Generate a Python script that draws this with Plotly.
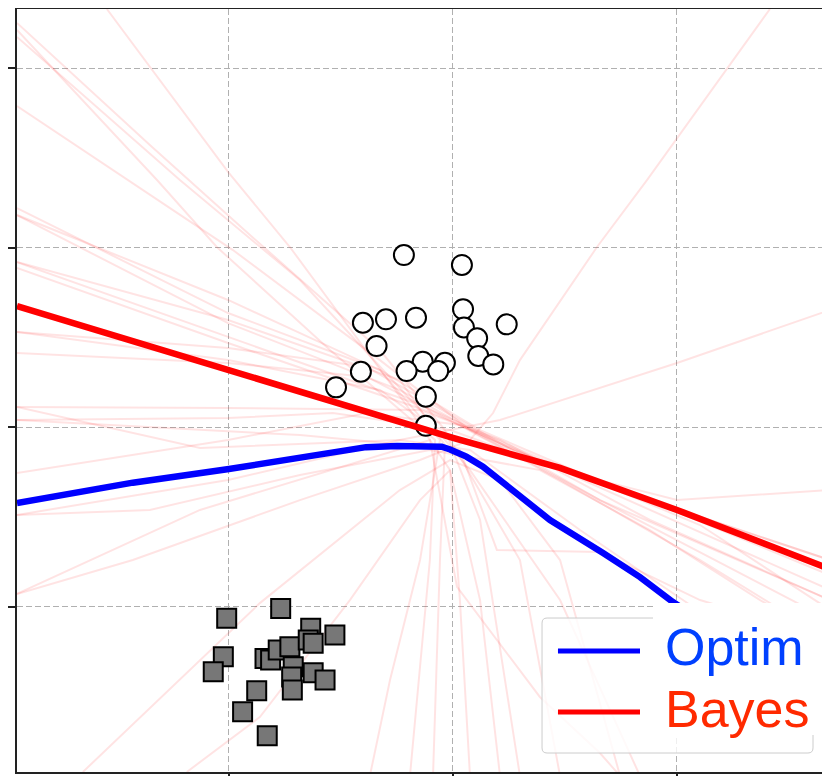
import plotly.graph_objects as go

# ---------------- data ----------------
circle_x = [-0.219, 0.040, -0.402, -0.299, -0.165, 0.045, 0.049, 0.240, -0.341, 0.108,
            0.113, 0.180, -0.135, -0.036, -0.207, -0.066, -0.411, -0.522, -0.121, -0.121]
circle_y = [0.958, 0.903, 0.581, 0.600, 0.609, 0.656, 0.555, 0.572, 0.451, 0.494,
            0.396, 0.349, 0.364, 0.358, 0.312, 0.312, 0.308, 0.221, 0.169, 0.007]

square_x = [-1.010, -0.769, -0.635, -0.527, -1.025, -1.070, -0.839, -0.814, -0.780, -0.728,
            -0.646, -0.624, -0.713, -0.624, -0.571, -0.720, -0.717, -0.876, -0.939, -0.829]
square_y = [-1.066, -1.011, -1.121, -1.159, -1.280, -1.363, -1.289, -1.298, -1.242, -1.224,
            -1.187, -1.205, -1.335, -1.369, -1.409, -1.393, -1.465, -1.469, -1.586, -1.720]

bayes_x = [-1.946, -1.004, -0.504, 0.0, 0.478, 1.0, 1.683]
bayes_y = [0.674, 0.318, 0.128, -0.061, -0.228, -0.462, -0.791]

optim_x = [-1.946, -1.429, -1.0, -0.683, -0.388, -0.250, -0.121, -0.050, -0.013, 0.060,
           0.134, 0.286, 0.433, 0.670, 0.835, 0.982, 1.103, 1.371, 1.683]
optim_y = [-0.423, -0.310, -0.234, -0.170, -0.112, -0.106, -0.106, -0.110, -0.125, -0.165,
           -0.221, -0.368, -0.518, -0.702, -0.836, -0.975, -1.075, -1.298, -1.560]

# posterior sample boundaries (faint)
sample_x = [
    [-1.545, -1.004, -0.728, -0.192, -0.013, 0.121, 0.210],
    [-1.946, -1.321, -1.054, -0.549, -0.080, -0.103, -0.192],
    [-1.946, -1.219, -0.683, -0.147, 0.076, 0.478, 0.835],
    [-1.946, -0.982, -0.326, 0.076, 0.656, 1.683],
    [-1.946, -1.004, -0.326, 0.121, 0.746, 1.683],
    [-1.946, -1.004, -0.237, 0.210, 0.924, 1.683],
    [-1.946, -1.004, -0.147, 0.299, 1.103, 1.683],
    [-1.946, -1.004, -0.103, 0.478, 1.683],
    [-1.946, -1.004, -0.384, 0.031, 0.656, 1.683],
    [-1.946, -1.004, -0.384, -0.013, 0.478, 1.103, 1.683],
    [-1.946, -1.004, -0.147, 0.210, 0.879, 1.683],
    [-1.946, -1.004, -0.536, -0.013, 0.478, 1.683],
    [-1.946, -1.004, -0.384, 0.031, 0.478, 1.0, 1.683],
    [-1.946, -1.004, -0.237, 0.210, 1.0, 1.683],
    [-1.946, -1.429, -0.683, -0.147, 0.076, 0.179, 0.299, 0.643, 0.866, 1.415],
    [-1.652, -0.862, -0.237, -0.013, 0.210, 0.478, 0.746],
    [-1.188, -0.862, -0.460, -0.147, -0.013, 0.031, 0.076],
    [-1.946, -1.004, -0.326, -0.058, -0.147, -0.281, -0.371],
    [-1.946, -1.004, -0.237, -0.036, -0.058, -0.089],
    [-1.946, -0.683, 0.031, 0.196, 0.656, 1.103, 1.683],
    [-1.946, -1.129, -0.103, 0.018, 0.388, 0.656, 0.746],
    [-1.946, -1.004, -0.326, -0.013, 0.299, 0.478],
    [-1.946, -1.353, -0.683, -0.103, 0.388, 0.879, 1.371, 1.683],
    [-1.946, -1.129, -0.237, 0.076, 0.567, 1.683],
    [-1.946, -1.353, -0.906, -0.326, -0.036, 0.121, 0.299],
]
sample_y = [
    [2.329, 1.421, 1.003, 0.095, -0.240, -0.964, -1.944],
    [2.212, 1.376, 1.003, 0.429, -0.072, -0.741, -1.944],
    [2.173, 1.376, 0.819, 0.095, -0.240, -0.964, -1.944],
    [1.788, 0.986, 0.373, -0.017, -0.407, -0.964],
    [1.220, 0.635, 0.318, -0.017, -0.351, -0.741],
    [1.181, 0.579, 0.206, -0.100, -0.435, -0.825],
    [0.919, 0.501, 0.123, -0.128, -0.546, -1.019],
    [0.886, 0.468, 0.084, -0.240, -0.908],
    [0.529, 0.440, 0.334, 0.039, -0.407, -1.075],
    [0.412, 0.357, 0.279, 0.039, -0.295, -0.741, -1.187],
    [0.111, 0.106, 0.095, -0.072, -0.518, -0.964],
    [0.039, 0.050, 0.078, -0.017, -0.240, -0.741],
    [-0.256, -0.072, 0.078, 0.011, -0.240, -0.407, -0.351],
    [-0.490, -0.295, -0.072, 0.039, 0.357, 0.652],
    [-0.930, -0.741, -0.407, -0.184, -0.072, 0.078, 0.373, 1.003, 1.376, 2.329],
    [-1.922, -0.981, -0.351, -0.184, -0.295, -0.741, -1.944],
    [-1.922, -1.616, -0.964, -0.407, -0.240, -0.964, -1.944],
    [1.181, 0.708, 0.318, -0.072, -0.741, -1.409, -1.944],
    [0.919, 0.596, 0.262, -0.100, -0.741, -1.944],
    [0.039, -0.045, -0.128, -0.685, -0.696, -0.964, -1.187],
    [-0.930, -0.462, -0.072, -0.891, -1.504, -1.816, -1.944],
    [0.529, 0.373, 0.206, -0.072, -0.741, -1.944],
    [-0.490, -0.462, -0.267, -0.128, -0.240, -0.574, -0.964, -1.187],
    [0.111, -0.117, -0.072, -0.128, -0.574, -1.521],
    [2.251, 1.571, 1.070, 0.429, -0.017, -0.518, -1.944],
]

x_grid = [-1, 0, 1]
y_grid = [-1, 0, 1, 2]
x_range = [-1.946, 1.683]
y_range = [-1.922, 2.329]

legend_names = ["Optim", "Bayes"]

# ---------------- figure ----------------
fig = go.Figure()

for sx, sy in zip(sample_x, sample_y):
    fig.add_trace(go.Scatter(x=sx, y=sy, mode="lines",
                             line=dict(color="rgba(255,0,0,0.11)", width=2),
                             showlegend=False, hoverinfo="skip"))

fig.add_trace(go.Scatter(x=square_x, y=square_y, mode="markers",
                         marker=dict(symbol="square", size=19, color="#777777",
                                     line=dict(color="black", width=2)),
                         showlegend=False))
fig.add_trace(go.Scatter(x=circle_x, y=circle_y, mode="markers",
                         marker=dict(symbol="circle", size=20, color="white",
                                     line=dict(color="black", width=2)),
                         showlegend=False))
fig.add_trace(go.Scatter(x=optim_x, y=optim_y, mode="lines", name=legend_names[0],
                         line=dict(color="#0000ff", width=6.5),
                         showlegend=False))
fig.add_trace(go.Scatter(x=bayes_x, y=bayes_y, mode="lines", name=legend_names[1],
                         line=dict(color="#ff0000", width=6.5),
                         showlegend=False))

# ---- legend drawn manually (matplotlib-style rounded, semi-transparent frame) ----
bx0, bx1, by0, by1 = 0.6458, 0.9791, 0.0249, 0.2018
rx, ry = 0.0062, 0.0066
path = (f"M {bx0+rx},{by0} L {bx1-rx},{by0} Q {bx1},{by0} {bx1},{by0+ry} "
        f"L {bx1},{by1-ry} Q {bx1},{by1} {bx1-rx},{by1} L {bx0+rx},{by1} "
        f"Q {bx0},{by1} {bx0},{by1-ry} L {bx0},{by0+ry} Q {bx0},{by0} {bx0+rx},{by0} Z")
shapes = [
    dict(type="path", path=path, xref="paper", yref="paper", layer="above",
         fillcolor="rgba(255,255,255,0.8)", line=dict(color="#cccccc", width=1)),
    dict(type="rect", xref="paper", yref="paper", x0=0.7823, x1=0.9926, y0=0.0485, y1=0.2215,
         layer="above", fillcolor="white", line=dict(width=0)),
    dict(type="line", xref="paper", yref="paper", x0=0.6654, x1=0.7663, y0=0.1586, y1=0.1586,
         layer="above", line=dict(color="#0000ff", width=5)),
    dict(type="line", xref="paper", yref="paper", x0=0.6654, x1=0.7663, y0=0.0786, y1=0.0786,
         layer="above", line=dict(color="#ff0000", width=5)),
]
annotations = [
    dict(text=legend_names[0], xref="paper", yref="paper", x=0.7950, y=0.1638,
         xanchor="left", yanchor="middle", showarrow=False,
         font=dict(family="Liberation Sans, Arial, sans-serif", size=52, color="#0040ff")),
    dict(text=legend_names[1], xref="paper", yref="paper", x=0.7950, y=0.0826,
         xanchor="left", yanchor="middle", showarrow=False,
         font=dict(family="Liberation Sans, Arial, sans-serif", size=52, color="#ff2a00")),
]

axis_common = dict(showticklabels=False, ticks="outside", ticklen=9, tickwidth=2,
                   tickcolor="#222222", showgrid=True, gridcolor="#b0b0b0", gridwidth=1,
                   griddash="6px,3px", zeroline=False, showline=True,
                   linecolor="#222222", linewidth=2, automargin=False)

# the page body has an 8px default margin, so the figure is sized to fit
fig.update_layout(
    width=822, height=768,
    margin=dict(l=9, r=0, t=1, b=4, autoexpand=False),
    paper_bgcolor="white", plot_bgcolor="white",
    xaxis=dict(range=x_range, tickvals=x_grid, mirror=True, **axis_common),
    yaxis=dict(range=y_range, tickvals=y_grid, mirror=False, **axis_common),
    shapes=shapes, annotations=annotations,
    showlegend=False,
)

fig.write_html("out.html")
